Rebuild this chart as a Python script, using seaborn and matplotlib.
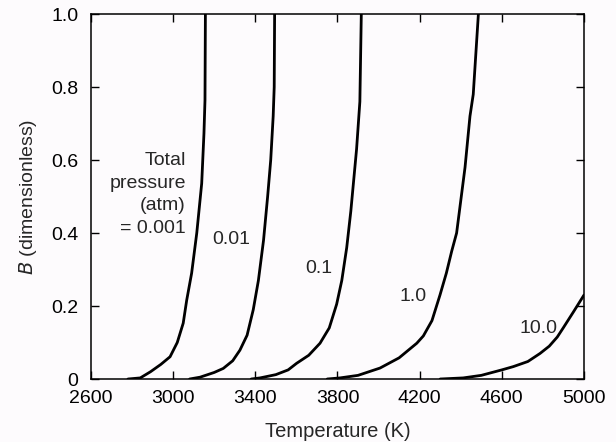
import numpy as np
import pandas as pd
import matplotlib
matplotlib.use("Agg")
import matplotlib.pyplot as plt
import seaborn as sns

# ── Data ──────────────────────────────────────────────────────────────────────
PRESSURES = ["0.001", "0.01", "0.1", "1.0", "10.0"]

T_0001 = [2780, 2840, 2890, 2940, 2985, 3020, 3049, 3066, 3090, 3115, 3139, 3150, 3155, 3157]
B_0001 = [0, 0.003, 0.02, 0.04, 0.061, 0.10, 0.153, 0.216, 0.29, 0.40, 0.536, 0.673, 0.764, 1.0]

T_001 = [3080, 3131, 3200, 3244, 3290, 3325, 3360, 3390, 3415, 3440, 3460, 3475, 3487, 3492, 3494]
B_001 = [0, 0.005, 0.018, 0.029, 0.05, 0.079, 0.12, 0.19, 0.27, 0.38, 0.50, 0.60, 0.72, 0.80, 1.0]

T_01 = [3380, 3423, 3500, 3560, 3601, 3660, 3715, 3760, 3796, 3821, 3845, 3865, 3893, 3909, 3916]
B_01 = [0, 0.003, 0.012, 0.025, 0.043, 0.065, 0.098, 0.14, 0.205, 0.27, 0.36, 0.46, 0.63, 0.76, 1.0]

T_1 = [3750, 3812, 3900, 4007, 4100, 4186, 4218, 4260, 4299, 4330, 4356, 4380, 4421, 4445, 4461, 4486]
B_1 = [0, 0.003, 0.01, 0.03, 0.058, 0.098, 0.118, 0.16, 0.23, 0.29, 0.35, 0.40, 0.58, 0.72, 0.78, 1.0]

T_10 = [4300, 4412, 4500, 4600, 4656, 4727, 4786, 4831, 4870, 4899, 4950, 5000]
B_10 = [0, 0.003, 0.01, 0.025, 0.034, 0.048, 0.07, 0.09, 0.115, 0.14, 0.185, 0.23]

X_TICKS = [2600, 3000, 3400, 3800, 4200, 4600, 5000]
Y_TICKS = [0, 0.2, 0.4, 0.6, 0.8, 1.0]
Y_TICKLABELS = ["0", "0.2", "0.4", "0.6", "0.8", "1.0"]

curves = [(T_0001, B_0001), (T_001, B_001), (T_01, B_01), (T_1, B_1), (T_10, B_10)]
df = pd.concat(
    [pd.DataFrame({"T": t, "B": b, "P": p}) for p, (t, b) in zip(PRESSURES, curves)],
    ignore_index=True,
)

# ── Figure ────────────────────────────────────────────────────────────────────
sns.set_theme(style="ticks")
plt.rcParams["font.family"] = ["Liberation Sans", "DejaVu Sans"]
BG = "#fdfbfd"
FS = 14

fig = plt.figure(figsize=(6.16, 4.42), dpi=100)
fig.patch.set_facecolor(BG)
ax = fig.add_axes([0.1477, 0.1425, 0.8003, 0.8258])
ax.set_facecolor(BG)

sns.lineplot(data=df, x="T", y="B", hue="P", units="P", estimator=None, sort=False,
             palette=["black"] * 5, linewidth=2.0, legend=False, ax=ax)

ax.set_xlim(2600, 5000)
ax.set_ylim(0, 1.0)
ax.set_xticks(X_TICKS)
ax.set_yticks(Y_TICKS)
ax.set_yticklabels(Y_TICKLABELS)
ax.tick_params(direction="in", length=6, width=1, top=True, right=True,
               labelsize=FS, colors="black")
ax.tick_params(axis="x", pad=8)
ax.tick_params(axis="y", pad=9)
for s in ax.spines.values():
    s.set_linewidth(1.1)
    s.set_color("black")

ax.set_xlabel("Temperature (K)", fontsize=FS + 0.5, labelpad=11)
ax.set_ylabel("$B$ (dimensionless)", fontsize=FS, labelpad=9)

# curve labels
ax.text(3062, 0.505, "Total\npressure\n(atm)\n= 0.001", ha="right", va="center",
        fontsize=FS, linespacing=1.42)
ax.text(3285, 0.381, "0.01", ha="center", va="center", fontsize=FS)
ax.text(3707, 0.303, "0.1", ha="center", va="center", fontsize=FS)
ax.text(4169, 0.225, "1.0", ha="center", va="center", fontsize=FS)
ax.text(4777, 0.139, "10.0", ha="center", va="center", fontsize=FS)

fig.savefig("out.png", dpi=100, facecolor=BG)
plt.close(fig)
